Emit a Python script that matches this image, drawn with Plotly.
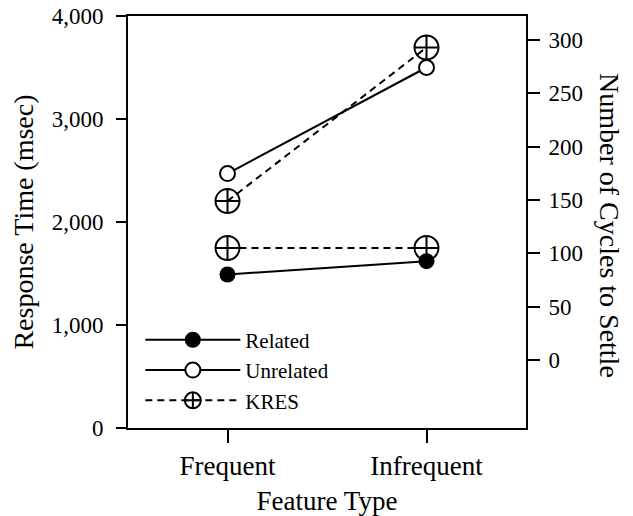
import plotly.graph_objects as go

categories = ["Frequent", "Infrequent"]
related_rt = [1490, 1620]
unrelated_rt = [2470, 3500]
kres_related_cycles = [105, 105]
kres_unrelated_cycles = [149, 293]

left_ticks = [0, 1000, 2000, 3000, 4000]
right_ticks = [0, 50, 100, 150, 200, 250, 300]

FONT = "Liberation Serif"
fig = go.Figure()

kres_marker = dict(symbol="circle-cross-open", size=24, color="black", line=dict(width=2, color="black"))
kres_line = dict(color="black", width=2, dash="7px,5px")

fig.add_trace(go.Scatter(x=categories, y=kres_unrelated_cycles, yaxis="y2", mode="lines+markers",
                         name="KRES", showlegend=False, line=kres_line, marker=kres_marker))
fig.add_trace(go.Scatter(x=categories, y=kres_related_cycles, yaxis="y2", mode="lines+markers",
                         name="KRES", showlegend=True, legendrank=3, line=kres_line, marker=kres_marker))
fig.add_trace(go.Scatter(x=categories, y=related_rt, mode="lines+markers", name="Related",
                         legendrank=1, line=dict(color="black", width=2),
                         marker=dict(symbol="circle", size=16, color="black")))
fig.add_trace(go.Scatter(x=categories, y=unrelated_rt, mode="lines+markers", name="Unrelated",
                         legendrank=2, line=dict(color="black", width=2),
                         marker=dict(symbol="circle", size=15, color="white",
                                     line=dict(width=2, color="black"))))

fig.update_layout(
    width=633, height=516,
    margin=dict(l=128, r=107, t=16, b=88),
    paper_bgcolor="white", plot_bgcolor="white",
    font=dict(family=FONT, size=23, color="black"),
    showlegend=True,
    legend=dict(x=0.031, y=0.018, xanchor="left", yanchor="bottom",
                bgcolor="rgba(0,0,0,0)", font=dict(family=FONT, size=21),
                itemwidth=95, traceorder="normal"),
    xaxis=dict(type="category", range=[-0.5, 1.5], showline=True, linecolor="black", linewidth=2,
               mirror=True, ticks="outside", ticklen=13, tickwidth=2, tickcolor="black",
               tickfont=dict(size=27), showgrid=False, zeroline=False, automargin=False,
               title=dict(text="Feature Type", font=dict(size=27), standoff=21)),
    yaxis=dict(range=[0, 4000], tickvals=left_ticks, tickformat=",", showline=True,
               linecolor="black", linewidth=2, ticks="outside", ticklen=10, tickwidth=2,
               tickcolor="black", showgrid=False, zeroline=False, ticklabelstandoff=8,
               automargin=False,
               title=dict(text="Response Time (msec)", font=dict(size=28), standoff=10)),
    yaxis2=dict(overlaying="y", side="right", range=[-63.75, 322.5], tickvals=right_ticks,
                showline=True, linecolor="black", linewidth=2, ticks="outside", ticklen=12,
                tickwidth=2, tickcolor="black", showgrid=False, zeroline=False, ticklabelstandoff=4,
                automargin=False),
    annotations=[dict(text="Number of Cycles to Settle", textangle=90, xref="paper", yref="paper",
                      x=1.0, y=0.5, xanchor="center", yanchor="middle", xshift=84, yshift=-3,
                      showarrow=False, font=dict(family=FONT, size=28, color="black"))],
)

fig.write_html("out.html")
